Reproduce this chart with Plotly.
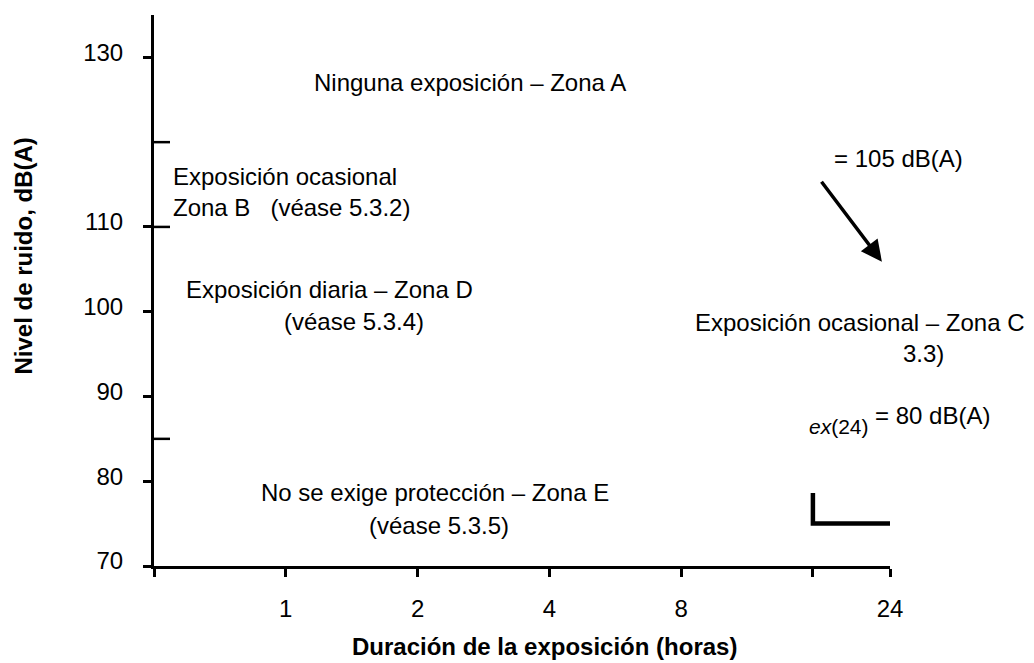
import numpy as np
import plotly.graph_objects as go

# ---- data -------------------------------------------------------------
x_tick_hours = [0.5, 1, 2, 4, 8, 16, 24]
x_tick_labels = ["", "1", "2", "4", "8", "", "24"]
y_tick_db = [70, 80, 90, 100, 110, 130]
y_tick_labels = ["70", "80", "90", "100", "110", "130"]
y_inner_tick_db = [85, 110, 120]

# zone labels: text, hours, dB, anchor
zone_texts = [
    "Ninguna exposición – Zona A",
    "Exposición ocasional",
    "Zona B   (véase 5.3.2)",
    "Exposición diaria – Zona D",
    "(véase 5.3.4)",
    "= 105 dB(A)",
    "Exposición ocasional – Zona C",
    "= 80 dB(A)",
    "No se exige protección – Zona E",
    "(véase 5.3.5)",
]
zone_hours = [2.63, 0.546, 0.546, 0.585, 0.98, 17.7, 8.5, 22.0, 0.868, 1.535]
zone_db = [127.0, 115.9, 112.3, 102.6, 98.8, 118.1, 98.7, 87.7, 78.7, 74.8]
zone_anchor = ["center", "left", "left", "left", "left", "left", "left",
               "left", "left", "left"]

edge_text = "3.3)"        # partly hidden reference, right of 24 h
edge_hours = 24
edge_db = 95.1

sub_italic = "ex"
sub_rest = "(24)"
sub_hours = 15.5
sub_db = 86.4

arrow_from = (16.64, 115.5)
arrow_to = (23.0, 105.9)

corner_hours = [16, 16, 24]
corner_db = [78.6, 75, 75]

x_title = "Duración de la exposición (horas)"
y_title = "Nivel de ruido, dB(A)"

# ---- figure -----------------------------------------------------------
FONT = "Liberation Sans, Arial, sans-serif"
fig = go.Figure()

fig.add_trace(go.Scatter(
    x=corner_hours, y=corner_db, mode="lines",
    line=dict(color="black", width=4.5),
    hoverinfo="skip", showlegend=False,
))

for t, hx, dy, anc in zip(zone_texts, zone_hours, zone_db, zone_anchor):
    fig.add_annotation(
        x=np.log10(hx), y=dy, xref="x", yref="y", text=t,
        showarrow=False, xanchor=anc, yanchor="middle",
        font=dict(family=FONT, size=24, color="black"),
    )

fig.add_annotation(
    x=np.log10(edge_hours), y=edge_db, xref="x", yref="y", text=edge_text,
    showarrow=False, xanchor="left", yanchor="middle", xshift=11,
    font=dict(family=FONT, size=24, color="black"),
)

fig.add_annotation(
    x=np.log10(sub_hours), y=sub_db, xref="x", yref="y",
    text="<i>" + sub_italic + "</i>" + sub_rest,
    showarrow=False, xanchor="left", yanchor="middle",
    font=dict(family=FONT, size=21, color="black"),
)

fig.add_annotation(
    x=np.log10(arrow_to[0]), y=arrow_to[1],
    ax=np.log10(arrow_from[0]), ay=arrow_from[1],
    xref="x", yref="y", axref="x", ayref="y", text="",
    showarrow=True, arrowhead=2, arrowsize=1.2, arrowwidth=3.5, arrowcolor="black",
)

# axis titles
fig.add_annotation(
    x=0.531, y=-0.147, xref="paper", yref="paper", text="<b>" + x_title + "</b>",
    showarrow=False, xanchor="center", yanchor="middle",
    font=dict(family=FONT, size=24, color="black"),
)
fig.add_annotation(
    x=-0.177, y=0.563, xref="paper", yref="paper", text="<b>" + y_title + "</b>",
    showarrow=False, xanchor="center", yanchor="middle", textangle=-90,
    font=dict(family=FONT, size=24, color="black"),
)

for v in y_inner_tick_db:
    fig.add_shape(
        type="line", xref="x domain", yref="y",
        xsizemode="pixel", xanchor=0, x0=0, x1=16, y0=v, y1=v,
        line=dict(color="black", width=2.5),
    )

fig.update_xaxes(
    type="log", range=[np.log10(0.5), np.log10(24)],
    tickmode="array", tickvals=x_tick_hours, ticktext=x_tick_labels,
    ticks="outside", ticklen=8, tickwidth=3, tickcolor="black",
    showline=True, linecolor="black", linewidth=3,
    showgrid=False, zeroline=False, automargin=False,
    ticklabelstandoff=11,
    tickfont=dict(family=FONT, size=24, color="black"),
)
fig.update_yaxes(
    range=[70, 135],
    tickmode="array", tickvals=y_tick_db, ticktext=y_tick_labels,
    ticks="outside", ticklen=8, tickwidth=3, tickcolor="black",
    showline=True, linecolor="black", linewidth=3,
    showgrid=False, zeroline=False, automargin=False,
    ticklabelstandoff=15, ticklabelshift=-5,
    tickfont=dict(family=FONT, size=24, color="black"),
)

# page body adds an 8 px offset; margins compensate for it
fig.update_layout(
    width=1034, height=663,
    margin=dict(l=146, r=152, t=7, b=105),
    plot_bgcolor="white", paper_bgcolor="white",
    showlegend=False,
)

fig.write_html("out.html")
